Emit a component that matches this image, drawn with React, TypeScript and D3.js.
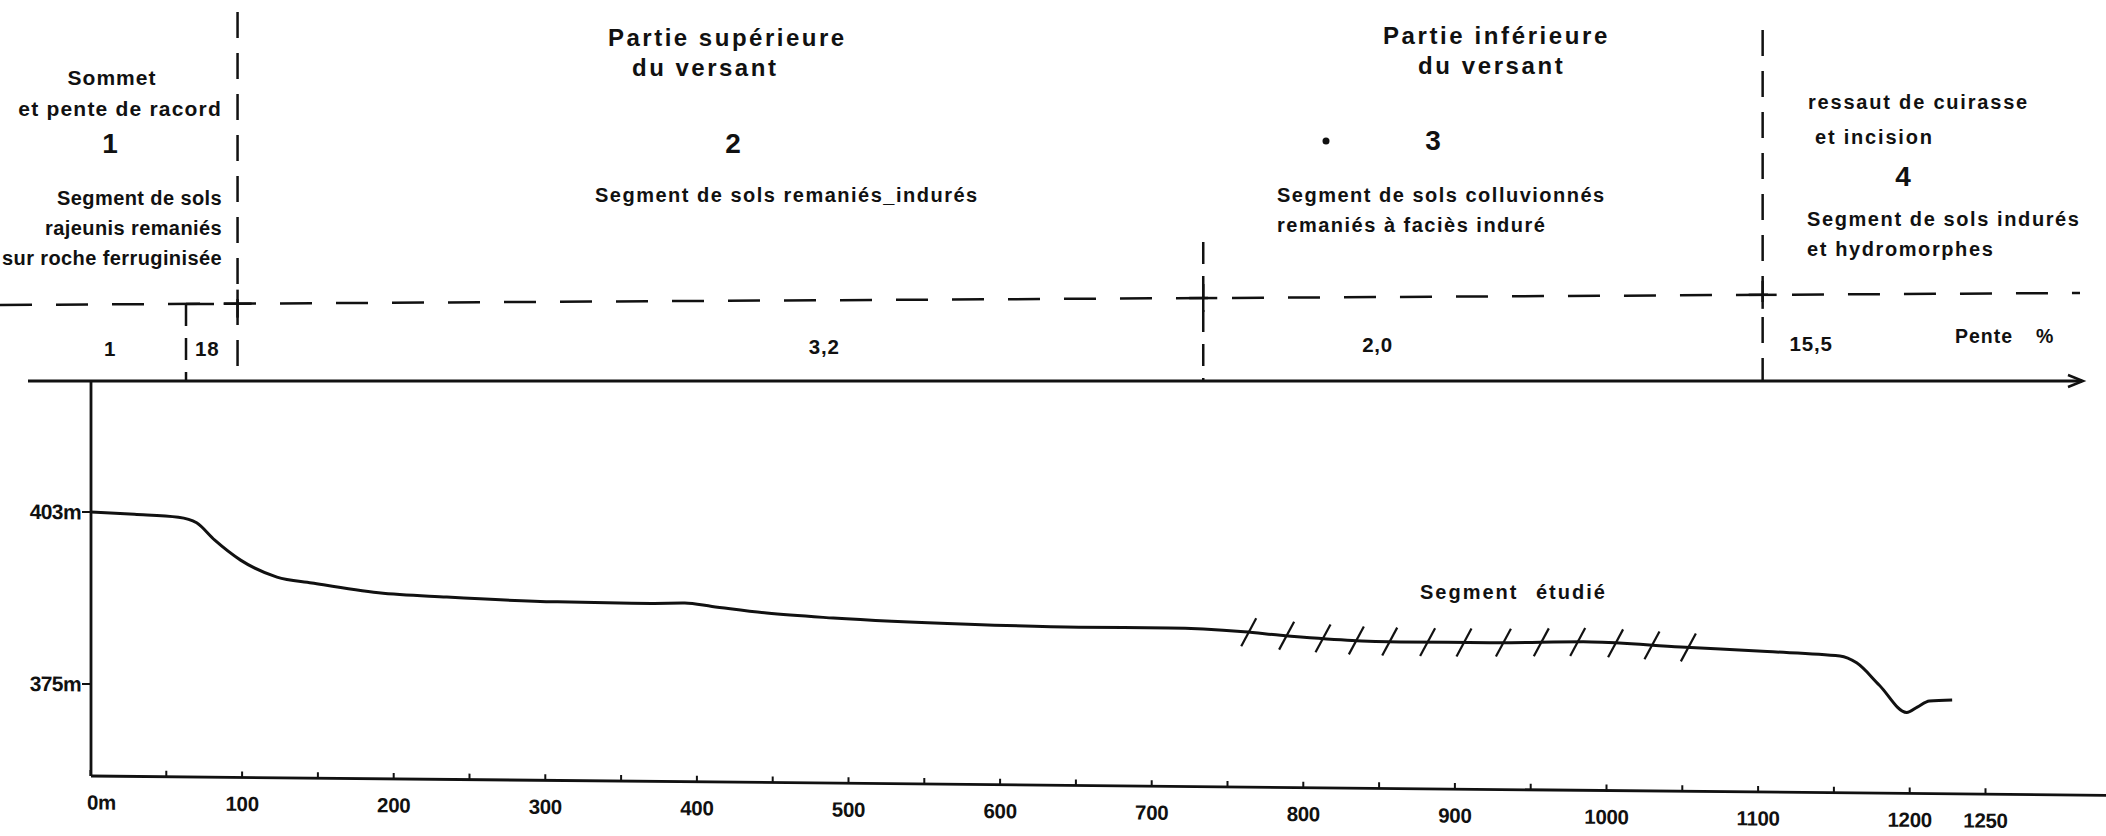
import React from 'react';
import * as d3 from 'd3';

// --- profile (distance in m, altitude in m) ---
const distances = [0, 29, 58, 70, 82, 99, 123, 146, 190, 235, 308, 370, 392, 410, 446, 490, 579, 652, 711, 761, 785, 829, 864, 923, 990, 1049, 1106, 1154, 1165, 1180, 1198, 1205, 1213, 1228];
const altitudes = [403, 402.7, 402.3, 401.4, 398.6, 395.4, 392.7, 391.8, 390.3, 389.7, 389.1, 389.0, 389.1, 388.6, 387.6, 386.9, 386.1, 385.8, 385.8, 385.3, 384.8, 384.1, 383.9, 383.9, 384.2, 383.5, 382.9, 382.3, 381.2, 377.6, 373.2, 374.1, 375.1, 375.3];

// hatch marks of the studied segment (m)
const studiedMarks = [764, 789, 813, 835, 857, 882, 906, 932, 957, 981, 1006, 1030, 1054];

// axis ticks
const xMinorTicks = [0, 50, 100, 150, 200, 250, 300, 350, 400, 450, 500, 550, 600, 650, 700, 750, 800, 850, 900, 950, 1000, 1050, 1100, 1150, 1200, 1250];
const xTickLabels = [0, 100, 200, 300, 400, 500, 600, 700, 800, 900, 1000, 1100, 1200, 1250];
const yTickLabels = [403, 375];

// slope segments (m) and slope values (%)
const zoneLimits = [97, 1103];          // long dashed limits (units 1|2|3 and 3|4)
const subLimits = [63, 734];            // shorter limits inside units
const penteLabels = ['1', '18', '3,2', '2,0', '15,5'];
const penteAt = [13, 77, 484, 849, 1135];

// unit texts
const unitNumbers = ['1', '2', '3', '4'];
const unitTitles = [['Sommet', 'et pente de racord'], ['Partie supérieure', 'du versant'], ['Partie inférieure', 'du versant'], ['ressaut de cuirasse', 'et incision']];
const unitSoils = [['Segment de sols', 'rajeunis remaniés', 'sur roche ferruginisée'], ['Segment de sols remaniés_indurés'], ['Segment de sols colluvionnés', 'remaniés à faciès induré'], ['Segment de sols indurés', 'et hydromorphes']];

const W = 2106, H = 836;
const FONT = "'Liberation Sans', Arial, Helvetica, sans-serif";
const BASE_Y = 776;      // bottom axis
const PENTE_Y = 381;     // slope axis
const INK = '#111';

export default function App() {
  const x = d3.scaleLinear().domain([0, 1250]).range([90.5, 1985.5]);
  const y = d3.scaleLinear().domain([375, 403]).range([684, 512]);
  const pts = distances.map((d, i) => [d, altitudes[i]] as [number, number]);
  const line = d3.line<[number, number]>().x(d => x(d[0])).y(d => y(d[1])).curve(d3.curveMonotoneX);
  const altAt = (m: number) => {
    const i = Math.max(1, d3.bisectLeft(distances, m));
    const t = (m - distances[i - 1]) / (distances[i] - distances[i - 1]);
    return altitudes[i - 1] + t * (altitudes[i] - altitudes[i - 1]);
  };
  // the scanned slope row drifts up slightly to the right
  const penteY = (px: number) => 349 - (px - 110) * 0.0035;

  const bold = { fontFamily: FONT, fontWeight: 700, fill: INK } as const;
  const body = { fontFamily: FONT, fontWeight: 700, fill: INK, fontSize: 20, letterSpacing: 1 } as const;

  // layout of unit texts (page px)
  const titleRows = [
    [{ x: 112, y: 77, a: 'middle', ls: 1 }, { x: 222, y: 108, a: 'end', ls: 1.2 }],
    [{ x: 608, y: 37, a: 'start', ls: 2.5 }, { x: 632, y: 67, a: 'start', ls: 2.5 }],
    [{ x: 1383, y: 35, a: 'start', ls: 2.6 }, { x: 1418, y: 65, a: 'start', ls: 2.6 }],
    [{ x: 1808, y: 102, a: 'start', ls: 1.8 }, { x: 1815, y: 137, a: 'start', ls: 1.8 }],
  ];
  const titleSize = [21, 24, 24, 20];
  const numberPos = [[110, 143], [733, 143], [1433, 140], [1903, 176]];
  const soilRows = [
    { x: 222, y: 198, a: 'end', fs: 20, ls: 0.4 },
    { x: 595, y: 195, a: 'start', fs: 20, ls: 1.5 },
    { x: 1277, y: 195, a: 'start', fs: 20, ls: 1.5 },
    { x: 1807, y: 219, a: 'start', fs: 20, ls: 1.6 },
  ];

  return (
    <svg width={W} height={H} viewBox={`0 0 ${W} ${H}`} style={{ position: 'absolute', left: 0, top: 0, background: '#fff' }}>
      <rect width={W} height={H} fill="#fff" />

      {/* ---- upper panel: units and slopes ---- */}
      <line x1={0} y1={305} x2={2080} y2={293} stroke={INK} strokeWidth={2.5} strokeDasharray="32 24" />
      {zoneLimits.map((m, i) => (
        <line key={'z' + i} x1={x(m)} x2={x(m)} y1={i === 0 ? 12 : 30} y2={PENTE_Y} stroke={INK} strokeWidth={2.5} strokeDasharray="26 15" />
      ))}
      {subLimits.map((m, i) => (
        <line key={'s' + i} x1={x(m)} x2={x(m)} y1={i === 0 ? 304 : 242} y2={PENTE_Y} stroke={INK} strokeWidth={2.5} strokeDasharray="22 12" />
      ))}
      {[...zoneLimits, subLimits[1]].map((m, i) => (
        <g key={'c' + i} stroke={INK} strokeWidth={2.5}>
          <line x1={x(m) - 14} x2={x(m) + 14} y1={305 - (x(m) / 2080) * 12} y2={305 - (x(m) / 2080) * 12} />
          <line x1={x(m)} x2={x(m)} y1={305 - (x(m) / 2080) * 12 - 14} y2={305 - (x(m) / 2080) * 12 + 14} />
        </g>
      ))}
      <line x1={x(subLimits[0])} x2={x(subLimits[0]) + 28} y1={304} y2={304} stroke={INK} strokeWidth={2.5} />

      {/* slope axis */}
      <line x1={28} x2={2082} y1={PENTE_Y} y2={PENTE_Y} stroke={INK} strokeWidth={2.8} />
      <path d={`M2068,${PENTE_Y - 6} L2083,${PENTE_Y} L2068,${PENTE_Y + 6}`} fill="none" stroke={INK} strokeWidth={2.5} />
      {penteLabels.map((p, i) => (
        <text key={'p' + i} x={x(penteAt[i])} y={penteY(x(penteAt[i]))} textAnchor="middle" dominantBaseline="central" {...body} fontSize={20.5} letterSpacing={0.8}>{p}</text>
      ))}
      <text x={1955} y={336} dominantBaseline="central" {...body} fontSize={19.5}>Pente</text>
      <text x={2036} y={336} dominantBaseline="central" {...body} fontSize={19.5}>%</text>

      {unitTitles.map((rows, u) => rows.map((t, k) => {
        const L = titleRows[u][k];
        return <text key={`t${u}${k}`} x={L.x} y={L.y} textAnchor={L.a as any} dominantBaseline="central" {...bold} fontSize={titleSize[u]} letterSpacing={L.ls}>{t}</text>;
      }))}
      {unitNumbers.map((n, u) => (
        <text key={'n' + u} x={numberPos[u][0]} y={numberPos[u][1]} textAnchor="middle" dominantBaseline="central" {...bold} fontSize={28}>{n}</text>
      ))}
      <circle cx={1326} cy={141} r={3.5} fill={INK} />
      {unitSoils.map((rows, u) => rows.map((t, k) => {
        const L = soilRows[u];
        return <text key={`s${u}${k}`} x={L.x} y={L.y + k * 30} textAnchor={L.a as any} dominantBaseline="central" {...body} fontSize={L.fs} letterSpacing={L.ls}>{t}</text>;
      }))}

      {/* ---- lower panel: topographic profile ---- */}
      <g transform={`translate(91,${BASE_Y}) skewY(0.55) translate(-91,${-BASE_Y})`}>
        <line x1={91} x2={91} y1={PENTE_Y} y2={BASE_Y} stroke={INK} strokeWidth={2.8} />
        {yTickLabels.map(v => (
          <g key={'y' + v}>
            <line x1={82} x2={91} y1={y(v)} y2={y(v)} stroke={INK} strokeWidth={2} />
            <text x={81} y={y(v)} textAnchor="end" dominantBaseline="central" fontFamily={FONT} fontWeight={700} fontSize={21} letterSpacing={-0.6} fill={INK}>{v}m</text>
          </g>
        ))}
        <line x1={91} x2={2106} y1={BASE_Y} y2={BASE_Y} stroke={INK} strokeWidth={2.8} />
        {xMinorTicks.map(v => (
          <line key={'xt' + v} x1={x(v)} x2={x(v)} y1={BASE_Y} y2={BASE_Y - 6} stroke={INK} strokeWidth={2} />
        ))}
        {xTickLabels.map(v => (
          <text key={'xl' + v} x={v === 0 ? 87 : x(v)} y={BASE_Y + 26} textAnchor={v === 0 ? 'start' : 'middle'} dominantBaseline="central" fontFamily={FONT} fontWeight={700} fontSize={20.5} letterSpacing={-0.3} fill={INK}>{v === 0 ? '0m' : v}</text>
        ))}
        <path d={line(pts) || ''} fill="none" stroke={INK} strokeWidth={3} strokeLinejoin="round" />
        {studiedMarks.map(m => {
          const cx = x(m), cy = y(altAt(m));
          return <line key={'h' + m} x1={cx - 7.5} y1={cy + 14} x2={cx + 7.5} y2={cy - 14} stroke={INK} strokeWidth={2.2} />;
        })}
      </g>
      <text x={1420} y={592} dominantBaseline="central" {...body} letterSpacing={2}>Segment</text>
      <text x={1536} y={592} dominantBaseline="central" {...body} letterSpacing={2}>étudié</text>
    </svg>
  );
}
